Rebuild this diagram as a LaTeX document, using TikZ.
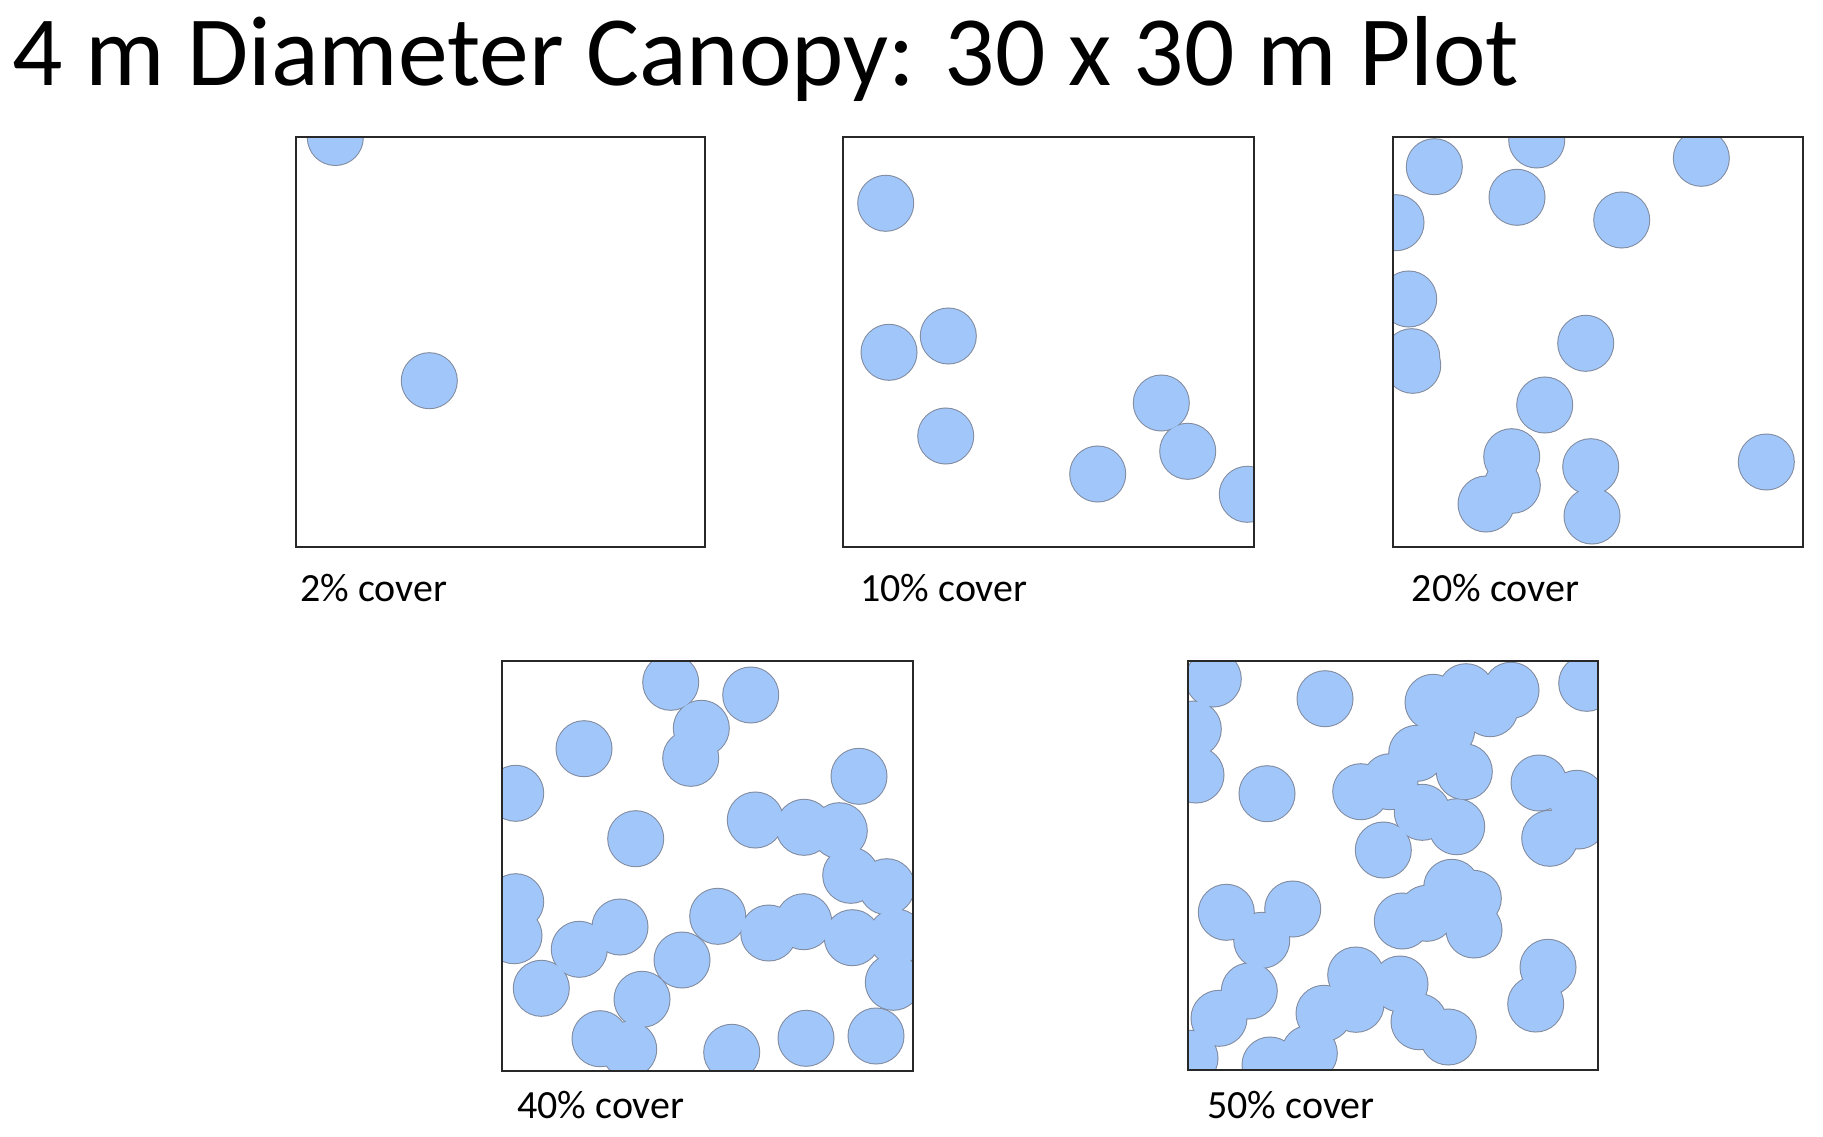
\documentclass[tikz,border=0pt]{standalone}
\usepackage{fontspec}
\setmainfont{Carlito}
\definecolor{canopyfill}{RGB}{160,198,250}
\definecolor{canopyline}{RGB}{128,138,158}
\definecolor{plotline}{RGB}{40,40,40}
\tikzset{
  outl/.style={draw=canopyline,line width=1.5pt},
  fl/.style={fill=canopyfill},
  plotbox/.style={draw=plotline,line width=1.1pt},
  lbl/.style={anchor=base west,inner sep=0pt,font=\fontsize{30pt}{36pt}\selectfont},
}
\newcommand\canopies[1]{%
  \foreach \cx/\cy in {#1} {\draw[outl] (\cx,\cy) circle[radius=20.625pt];}
  \foreach \cx/\cy in {#1} {\fill[fl] (\cx,\cy) circle[radius=20.625pt];}
}
\newcommand\plotpanel[5]{%
  \begin{scope}
    \clip (#1,#2) rectangle (#3,#4);
    \canopies{#5}
  \end{scope}
  \draw[plotbox] (#1,#2) rectangle (#3,#4);
}
\begin{document}
\begin{tikzpicture}[x=0.75pt,y=-0.75pt]
\useasboundingbox[fill=white] (0,0) rectangle (1823,1137);
\node[anchor=base west,inner sep=0pt,font=\fontsize{74.6pt}{90pt}\selectfont] (title) at (12,86) {4 m Diameter Canopy: 30 x 30 m Plot};

\plotpanel{296}{137}{705}{547}{335.3/137.5, 429.3/380.7}
\node[lbl] (l2) at (300,601) {2\% cover};

\plotpanel{843}{137}{1254}{547}{885.7/203.3, 889/352.3, 948.3/336, 945.7/436, 1097.7/474, 1161.3/403, 1187.7/451.3, 1247.3/494.3}
\node[lbl] (l10) at (860,601) {10\% cover};

\plotpanel{1393}{137}{1803}{547}{1434.3/166.7, 1536.7/140, 1701.3/158.3, 1517/197.3, 1621.7/220, 1396/222.7, 1408.7/299, 1411.7/356.7, 1412.7/365.3, 1585.7/343.3, 1544.7/405, 1511.7/456.7, 1486/504, 1512.3/485.3, 1590.7/466.7, 1592/516, 1766.3/462}
\node[lbl] (l20) at (1411.7,601) {20\% cover};

\plotpanel{502}{661}{913}{1071}{670.7/682.3, 750.7/695, 701.3/728.3, 690.7/758.3, 584/748.7, 515.7/793.3, 635.7/838.7, 859/776.3, 755.3/820, 804/827.3, 839.3/830.7, 850.7/875.3, 886.7/886.7, 515.7/901.7, 514/935.7, 620/927, 579.3/949.3, 541.3/988.3, 682/960, 717.7/916.3, 768.7/933, 803.7/921.7, 852.3/937.7, 893.3/982.3, 896/937, 642/999.3, 600/1038.7, 628.7/1049.3, 731.7/1052.3, 806/1038.3, 876/1036}
\node[lbl] (l40) at (517,1118) {40\% cover};

\plotpanel{1188}{661}{1598}{1070}{1213.3/679, 1193.3/729, 1196/775, 1325/698.7, 1267/793.7, 1433/702.3, 1466/691.7, 1511/690.3, 1490/708.7, 1586.7/683.3, 1416.7/753.3, 1360.7/791.7, 1390/781.7, 1464.3/771.7, 1422.3/812.3, 1456.7/826.7, 1383.3/850, 1446.7/730, 1539/783, 1576.7/798.3, 1578.3/821, 1549.7/838.3, 1226.3/912.3, 1292.7/909, 1261.7/940.3, 1249.3/991, 1219/1018.3, 1190/1058.3, 1270/1065, 1309.3/1053.3, 1324/1013.3, 1355.7/975, 1356/1004.3, 1400/984, 1419/1021.7, 1448.3/1037, 1402.3/921, 1451.7/887.3, 1473.3/898.3, 1474/930, 1426.7/913.3, 1548/967.3, 1535.7/1004}
\node[lbl] (l50) at (1207,1118) {50\% cover};
\end{tikzpicture}
\end{document}
